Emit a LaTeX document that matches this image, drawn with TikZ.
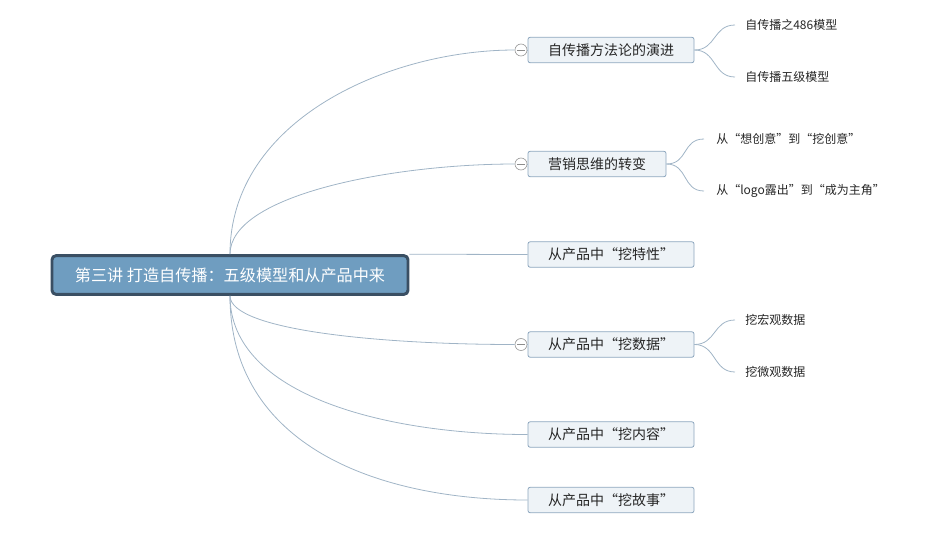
\documentclass[tikz,border=0pt]{standalone}
\usepackage{fontspec}
\setmainfont{Noto Sans CJK SC}
\usepackage{xcolor}
\usepackage{tikz}
\usetikzlibrary{positioning}
\definecolor{rootblue}{RGB}{111,157,192}
\definecolor{rootedge}{RGB}{58,79,99}
\definecolor{boxfill}{RGB}{238,243,247}
\definecolor{boxedge}{RGB}{140,166,190}
\definecolor{linkgray}{RGB}{160,180,198}

\begin{document}
\begin{tikzpicture}[x=0.75pt,y=-0.75pt,
    root/.style={draw=rootedge, line width=2.2pt, fill=rootblue, rounded corners=3pt,
        minimum width=267pt, minimum height=29pt, inner sep=0pt, text=white, font=\fontsize{12.1}{14}\selectfont},
    topic/.style={draw=boxedge, fill=boxfill, rounded corners=1.5pt, line width=0.6pt,
        minimum height=19pt, inner sep=0pt, text=black!85, font=\fontsize{10.5}{12}\selectfont},
    leaf/.style={anchor=west, inner sep=0pt, text=black!85, font=\fontsize{9}{11}\selectfont},
    toggle/.style={circle, draw=black!40, fill=white, line width=0.5pt, minimum size=9pt, inner sep=0pt},
    link/.style={draw=linkgray, line width=0.6pt}]
    \useasboundingbox (0,0) rectangle (929,544);
        % main topic
        \node[root] (root) at (230,275) {第三讲 打造自传播：五级模型和从产品中来};
        % topics
        \node[topic, minimum width=124.5pt] (t1) at (611,50) {自传播方法论的演进};
        \node[topic, minimum width=103.5pt] (t2) at (597,164) {营销思维的转变};
        \node[topic, minimum width=124.5pt] (t3) at (611,254.5) {从产品中“挖特性”};
        \node[topic, minimum width=124.5pt] (t4) at (611,344.5) {从产品中“挖数据”};
        \node[topic, minimum width=124.5pt] (t5) at (611,434.5) {从产品中“挖内容”};
        \node[topic, minimum width=124.5pt] (t6) at (611,500) {从产品中“挖故事”};
        % collapse buttons
        \node[toggle] (c1) at (521,50) {};
        \node[toggle] (c2) at (521,164) {};
        \node[toggle] (c4) at (521,344.5) {};
        \draw[black!45, line width=0.5pt] ([xshift=2pt]c1.west) -- ([xshift=-2pt]c1.east);
        \draw[black!45, line width=0.5pt] ([xshift=2pt]c2.west) -- ([xshift=-2pt]c2.east);
        \draw[black!45, line width=0.5pt] ([xshift=2pt]c4.west) -- ([xshift=-2pt]c4.east);
        % subtopics
        \node[leaf] (s1a) at (745,25) {自传播之486模型};
        \node[leaf] (s1b) at (745,77) {自传播五级模型};
        \node[leaf] (s2a) at (716,139) {从“想创意”到“挖创意”};
        \node[leaf] (s2b) at (716,191) {从“logo露出”到“成为主角”};
        \node[leaf] (s4a) at (745,320) {挖宏观数据};
        \node[leaf] (s4b) at (745,372) {挖微观数据};
        % links from main topic
        \draw[link] (root.north) .. controls +(0,-135) and +(-125,0) .. (c1.west);
        \draw[link] (root.north) .. controls +(0,-60) and +(-120,0) .. (c2.west);
        \draw[link] (root.north east) .. controls +(40,0) and +(-40,0) .. (t3.west);
        \draw[link] (root.south) .. controls +(0,35) and +(-130,0) .. (c4.west);
        \draw[link] (root.south) .. controls +(0,100) and +(-140,0) .. (t5.west);
        \draw[link] (root.south) .. controls +(0,150) and +(-150,0) .. (t6.west);
        \draw[link] (c1.east) -- (t1.west);
        \draw[link] (c2.east) -- (t2.west);
        \draw[link] (c4.east) -- (t4.west);
        % links to subtopics
        \draw[link] (t1.east) .. controls +(22,0) and +(-22,0) .. ([xshift=-7.5pt]s1a.west);
        \draw[link] (t1.east) .. controls +(22,0) and +(-22,0) .. ([xshift=-7.5pt]s1b.west);
        \draw[link] (t2.east) .. controls +(22,0) and +(-22,0) .. ([xshift=-9pt]s2a.west);
        \draw[link] (t2.east) .. controls +(22,0) and +(-22,0) .. ([xshift=-9pt]s2b.west);
        \draw[link] (t4.east) .. controls +(22,0) and +(-22,0) .. ([xshift=-7.5pt]s4a.west);
        \draw[link] (t4.east) .. controls +(22,0) and +(-22,0) .. ([xshift=-7.5pt]s4b.west);
    \end{tikzpicture}
\end{document}
